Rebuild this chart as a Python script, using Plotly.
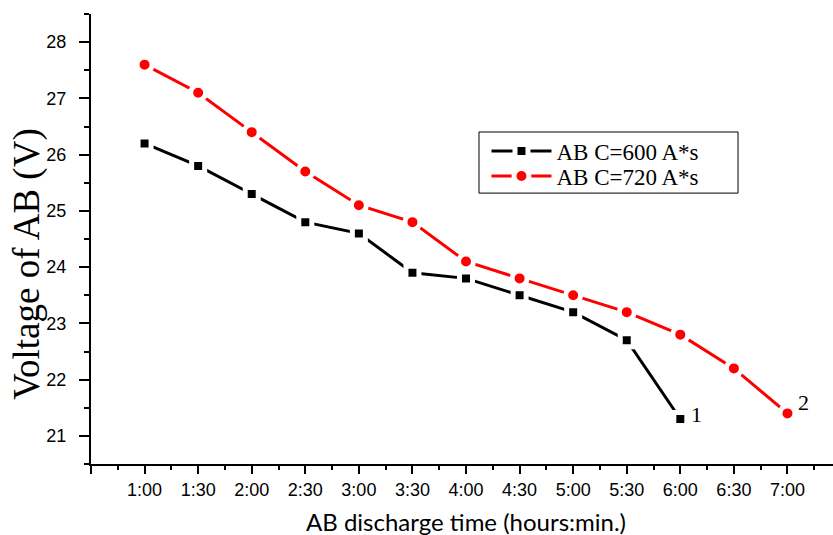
import plotly.graph_objects as go

# Discharge time labels (category positions 0..12)
time_labels = ["1:00", "1:30", "2:00", "2:30", "3:00", "3:30", "4:00",
               "4:30", "5:00", "5:30", "6:00", "6:30", "7:00"]

# Battery voltage readings (V)
volt_600 = [26.2, 25.8, 25.3, 24.8, 24.6, 23.9, 23.8, 23.5, 23.2, 22.7, 21.3]
volt_720 = [27.6, 27.1, 26.4, 25.7, 25.1, 24.8, 24.1, 23.8, 23.5, 23.2, 22.8, 22.2, 21.4]

series_names = ["AB C=600 A*s", "AB C=720 A*s"]
curve_labels = ["1", "2"]

x600 = list(range(len(volt_600)))
x720 = list(range(len(volt_720)))

fig = go.Figure()
fig.add_trace(go.Scatter(
    x=x600, y=volt_600, mode="lines+markers", name=series_names[0],
    legend="legend",
    line=dict(color="black", width=3),
    marker=dict(symbol="square", size=13, color="black",
                line=dict(color="white", width=5)),
))
fig.add_trace(go.Scatter(
    x=x720, y=volt_720, mode="lines+markers", name=series_names[1],
    legend="legend2",
    line=dict(color="#ff0000", width=3),
    marker=dict(symbol="circle", size=15, color="#ff0000",
                line=dict(color="white", width=5)),
))

# Curve number labels next to the final points
fig.add_annotation(x=x600[-1], y=volt_600[-1], text=curve_labels[0],
                   showarrow=False, xanchor="left", xshift=9, yshift=5,
                   font=dict(family="Liberation Serif", size=22, color="black"))
fig.add_annotation(x=x720[-1], y=volt_720[-1], text=curve_labels[1],
                   showarrow=False, xanchor="left", xshift=9, yshift=11,
                   font=dict(family="Liberation Serif", size=22, color="black"))

# Axis titles
fig.add_annotation(xref="paper", yref="paper", x=-0.086, y=0.445,
                   text="Voltage of AB (V)", textangle=-90, showarrow=False,
                   xanchor="center", yanchor="middle",
                   font=dict(family="Liberation Serif", size=37, color="black"))
fig.add_annotation(xref="paper", yref="paper", x=0.505, y=-0.127,
                   text="AB discharge time (hours:min.)", showarrow=False,
                   xanchor="center", yanchor="middle",
                   font=dict(family="Lato", size=24, color="black"))

# Frame around the two legend rows
fig.add_shape(type="rect", xref="paper", yref="paper",
              x0=0.5229, x1=0.872, y0=0.602, y1=0.7378,
              line=dict(color="black", width=1), fillcolor="white", layer="below")

major_x = list(range(-1, len(time_labels)))
minor_x = [v + 0.5 for v in major_x]

fig.update_xaxes(
    range=[-1, 12.85],
    tickmode="array", tickvals=major_x, ticktext=[""] + time_labels,
    ticks="outside", ticklen=8, tickwidth=2, tickcolor="black",
    minor=dict(tickvals=minor_x, ticks="outside", ticklen=4, tickwidth=2,
               tickcolor="black"),
    showline=True, linecolor="black", linewidth=2,
    showgrid=False, zeroline=False,
    tickfont=dict(family="Liberation Sans", size=18, color="black"),
)
fig.update_yaxes(
    range=[20.5, 28.5],
    tickmode="linear", tick0=21, dtick=1,
    ticks="outside", ticklen=10, tickwidth=2, tickcolor="black",
    minor=dict(tick0=20.5, dtick=0.5, ticks="outside", ticklen=5, tickwidth=2,
               tickcolor="black"),
    showline=True, linecolor="black", linewidth=2,
    showgrid=False, zeroline=False,
    ticklabelstandoff=9,
    tickfont=dict(family="Liberation Sans", size=18, color="black"),
)

legend_font = dict(family="Liberation Serif", size=23, color="black")
fig.update_layout(
    width=833, height=535,
    margin=dict(l=91, r=0, t=14, b=71),
    plot_bgcolor="white", paper_bgcolor="white",
    showlegend=True,
    legend=dict(x=0.533, y=0.6956, xanchor="left", yanchor="middle",
                itemwidth=60,
                bgcolor="rgba(0,0,0,0)", borderwidth=0, font=legend_font),
    legend2=dict(x=0.533, y=0.64, xanchor="left", yanchor="middle",
                 itemwidth=60,
                 bgcolor="rgba(0,0,0,0)", borderwidth=0, font=legend_font),
)

fig.write_html("out.html")
